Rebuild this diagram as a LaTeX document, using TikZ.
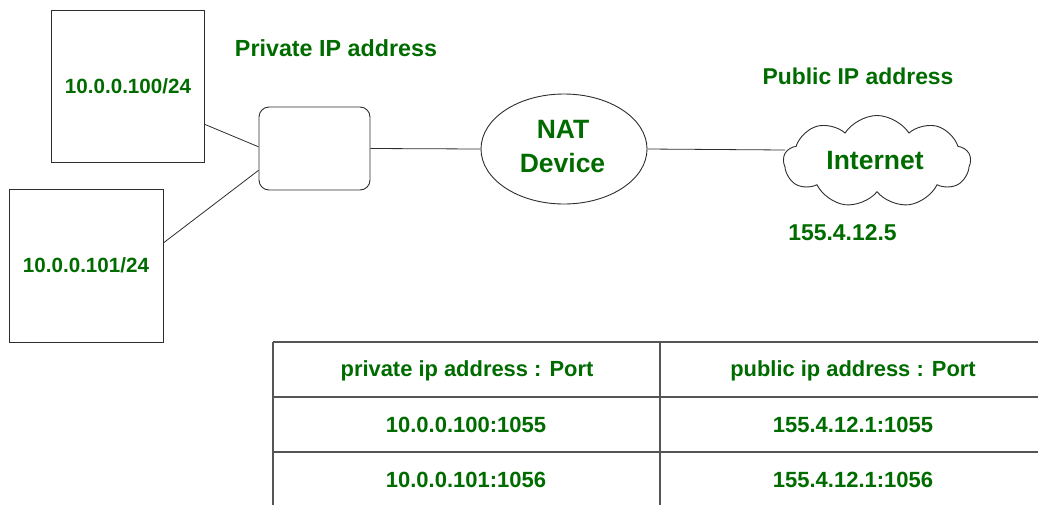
\documentclass[tikz,border=0pt]{standalone}
\usepackage{fontspec}
\setmainfont{Liberation Sans}
\usetikzlibrary{shapes.geometric,shapes.symbols,calc}
\definecolor{labelgreen}{RGB}{0,108,0}
\definecolor{edgegray}{RGB}{45,45,45}
\definecolor{gridgray}{RGB}{85,85,85}
\begin{document}
\begin{tikzpicture}[x=1pt,y=-1pt,
  lbl/.style={text=labelgreen,inner sep=0,anchor=base},
  hostbox/.style={draw=edgegray,line width=0.9pt,inner sep=0},
  link/.style={draw=edgegray,line width=0.8pt},
  gridline/.style={draw=gridgray,line width=1.5pt},
]
\useasboundingbox (0,0) rectangle (1038,504);

% hosts on the private side
\node[hostbox,minimum width=153pt,minimum height=152pt] (host1) at (127.5,86) {};
\node[hostbox,minimum width=154pt,minimum height=153pt] (host2) at (86,265.5) {};
\node[lbl,font=\fontsize{20.6}{24}\selectfont\bfseries] (host1ip) at (128,93.3) {10.0.0.100/24};
\node[lbl,font=\fontsize{20.6}{24}\selectfont\bfseries] (host2ip) at (86,272.8) {10.0.0.101/24};

% switch
\node[draw=edgegray,line width=0.9pt,rounded corners=10pt,minimum width=111pt,minimum height=83pt,inner sep=0] (switch) at (314.5,148.5) {};

% NAT device
\node[draw=edgegray,line width=0.9pt,ellipse,minimum width=166pt,minimum height=110pt,inner sep=0] (nat) at (564,149) {};
\node[lbl,font=\fontsize{26.5}{30}\selectfont\bfseries] (natl1) at (563,138) {NAT};
\node[lbl,font=\fontsize{26.5}{30}\selectfont\bfseries] (natl2) at (562.5,172) {Device};

% Internet cloud
\node[draw=edgegray,line width=0.9pt,cloud,cloud puffs=9,cloud puff arc=115,cloud ignores aspect,minimum width=187pt,minimum height=92pt,inner sep=0] (net) at (877,161.5) {};
\node[lbl,font=\fontsize{26.5}{30}\selectfont\bfseries] (netl) at (875,169) {Internet};

% side captions
\node[lbl,font=\fontsize{23.3}{28}\selectfont\bfseries] (privcap) at (336,56) {Private IP address};
\node[lbl,font=\fontsize{22.9}{28}\selectfont\bfseries] (pubcap) at (858,84) {Public IP address};
\node[lbl,font=\fontsize{22.9}{28}\selectfont\bfseries] (pubip) at (842.5,240) {155.4.12.5};

% links
\coordinate (h1port) at ($(host1.south east)!0.25!(host1.north east)$);
\coordinate (h2port) at ($(host2.south east)!0.647!(host2.north east)$);
\coordinate (sw1) at ($(switch.south west)!0.52!(switch.north west)$);
\coordinate (sw2) at ($(switch.south west)!0.24!(switch.north west)$);
\coordinate (netport) at (785,150);
\draw[link] (h1port) -- (sw1);
\draw[link] (h2port) -- (sw2);
\draw[link] (switch.east) -- (nat.west);
\draw[link] (nat.east) -- (netport);

% translation table
\draw[gridline] (273,342) -- (1046,342);
\draw[gridline] (273,397) -- (1046,397);
\draw[gridline] (273,452) -- (1046,452);
\draw[gridline] (273,342) -- (273,510);
\draw[gridline] (660,342) -- (660,510);
\draw[gridline] (1046,342) -- (1046,510);
\node[lbl,font=\fontsize{21.9}{26}\selectfont\bfseries] (th1) at (467,376) {private ip address : Port};
\node[lbl,font=\fontsize{21.9}{26}\selectfont\bfseries] (th2) at (853,376) {public ip address : Port};
\node[lbl,font=\fontsize{22}{26}\selectfont\bfseries] (r1c1) at (466,432) {10.0.0.100:1055};
\node[lbl,font=\fontsize{22}{26}\selectfont\bfseries] (r1c2) at (853,432) {155.4.12.1:1055};
\node[lbl,font=\fontsize{22}{26}\selectfont\bfseries] (r2c1) at (466,487) {10.0.0.101:1056};
\node[lbl,font=\fontsize{22}{26}\selectfont\bfseries] (r2c2) at (853,487) {155.4.12.1:1056};
\end{tikzpicture}
\end{document}
